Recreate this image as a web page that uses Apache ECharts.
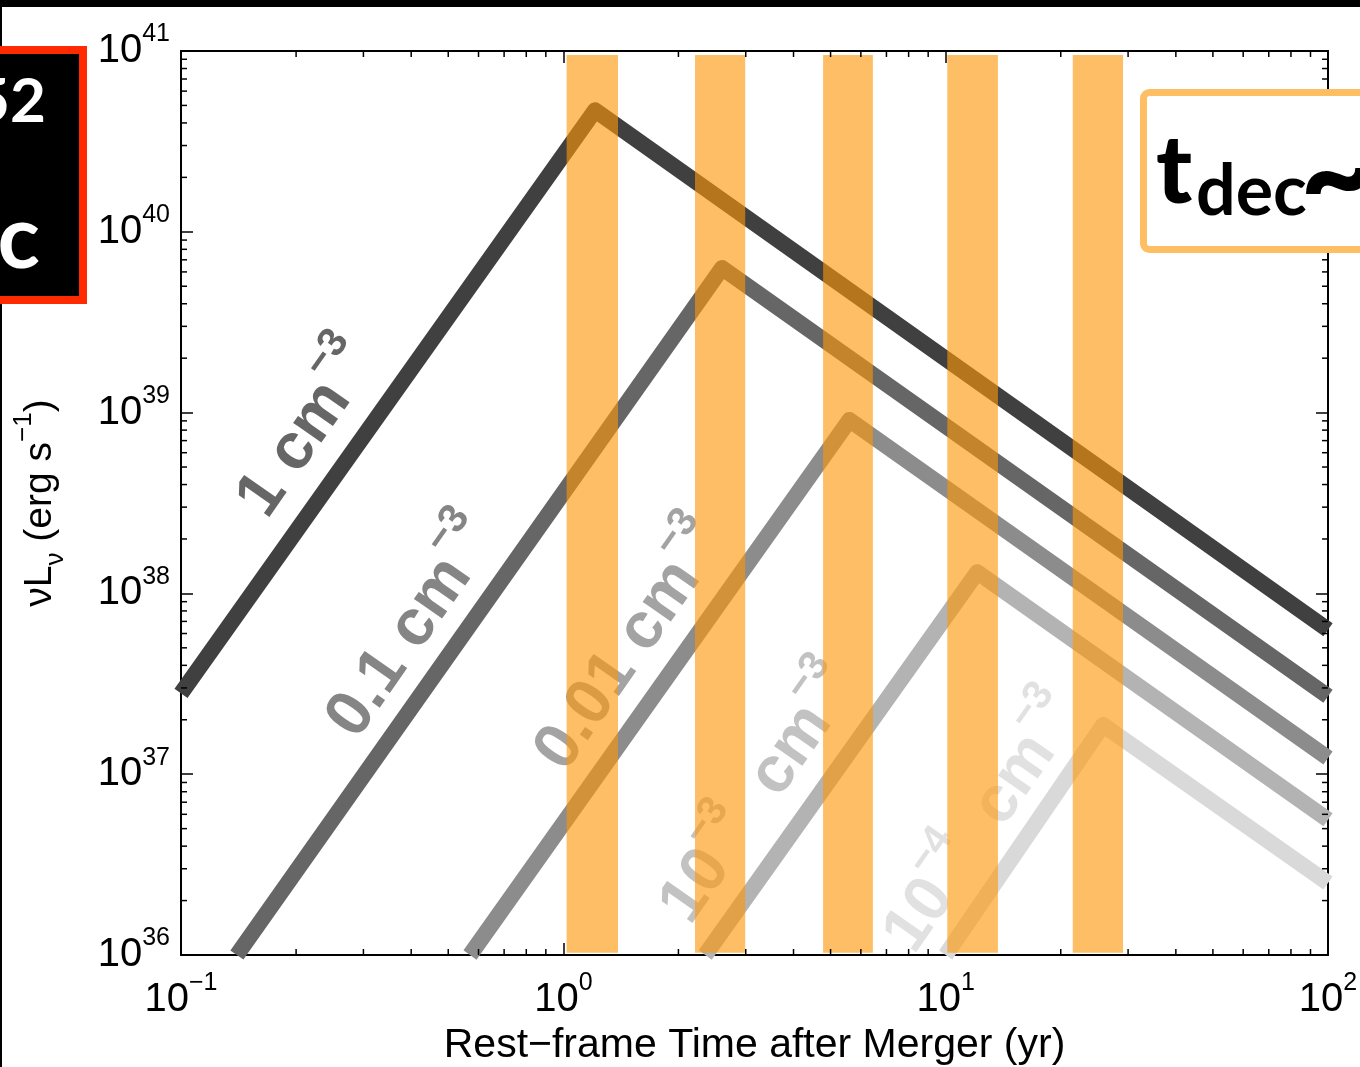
<!DOCTYPE html>
<html><head><meta charset="utf-8">
<script src="https://cdn.jsdelivr.net/npm/echarts@6/dist/echarts.min.js"></script>
<style>html,body{margin:0;padding:0;background:#fff}#c{width:1360px;height:1067px}</style>
</head><body><div id="c"></div>
<script>
// ---------- data ----------
const densityNames = ['1 cm-3', '0.1 cm-3', '0.01 cm-3', '1e-3 cm-3', '1e-4 cm-3'];
const densityLabels = [
  '{m|1 cm}{s|−3}',
  '{m|0.1 cm}{s|−3}',
  '{m|0.01 cm}{s|−3}',
  '{m|10}{s|−3}{m|  cm}{s|−3}',
  '{m|10}{s|−4}{m|  cm}{s|−3}'
];
const lineColors = ['#404040', '#666666', '#8c8c8c', '#b3b3b3', '#d9d9d9'];
// [rest-frame time (yr), nuL_nu (erg/s)]
const curve1 = [[0.1, 2.8e37], [1.21, 4.7e40], [100, 6.3e37]];
const curve01 = [[0.14, 1e36], [2.6, 6.3e39], [100, 2.7e37]];
const curve001 = [[0.57, 1e36], [5.6, 9.1e38], [100, 1.23e37]];
const curve1em3 = [[2.35, 1e36], [12.1, 1.31e38], [100, 5.6e36]];
const curve1em4 = [[10.0, 1e36], [25.8, 1.87e37], [100, 2.5e36]];
const curves = [curve1, curve01, curve001, curve1em3, curve1em4];
// label anchor points (data coords)
const labelAnchors = [[0.215, 8.0e38], [0.405, 6.4e37], [1.51, 5.1e37], [3.27, 7.7e36], [12.6, 5.3e36]];
// t_dec bands (yr)
const bandStart = [1.02, 2.21, 4.78, 10.1, 21.5];
const bandEnd = [1.39, 2.99, 6.45, 13.7, 29.1];
const bandBottom = 1.03e36, bandTop = 9.5e40;
// axes
const xMin = 0.1, xMax = 100, yMin = 1e36, yMax = 1e41;
const xDecades = [0.1, 1, 10];
const yDecades = [1e36, 1e37, 1e38, 1e39, 1e40];
const minorMantissas = [2, 3, 4, 5, 6, 7, 8, 9];

// ---------- build ----------
const FONT = "'Liberation Sans', Arial, Helvetica, sans-serif";
const minorData = [];
xDecades.forEach(d => minorMantissas.forEach(m => minorData.push([d * m, yMin, 0])));
yDecades.forEach(d => minorMantissas.forEach(m => minorData.push([xMin, d * m, 1])));

function expLabel(v) {
  const e = Math.round(Math.log10(v));
  return '{b|10}{s|' + (e < 0 ? '−' + (-e) : e) + '}';
}
const tickRich = {
  b: { fontSize: 40, lineHeight: 58, fontFamily: FONT, color: '#000' },
  s: { fontSize: 25, lineHeight: 25, verticalAlign: 'top', fontFamily: FONT, color: '#000' }
};
const axisCommon = {
  type: 'log', logBase: 10,
  axisLine: { show: true, onZero: false, lineStyle: { color: '#000', width: 2 } },
  axisTick: { show: true, inside: true, length: 12, lineStyle: { color: '#000', width: 1.5 } },
  splitLine: { show: false },
  minorTick: { show: false }
};

const series = [];
curves.forEach((c, i) => {
  series.push({
    type: 'line', name: densityNames[i], data: c, symbol: 'none', z: 2,
    lineStyle: { color: lineColors[i], width: 16, join: 'round', cap: 'butt' },
    silent: true, animation: false
  });
});
series.push({
  type: 'scatter', name: 'labels', z: 3, symbolSize: 0, silent: true,
  data: labelAnchors.map((p, i) => ({
    value: p,
    label: {
      show: true, position: 'inside', rotate: 55, formatter: densityLabels[i],
      rich: {
        m: { fontSize: 65, fontWeight: 'bold', lineHeight: 98, fontFamily: FONT, color: lineColors[i] },
        s: { fontSize: 41, fontWeight: 'bold', lineHeight: 41, verticalAlign: 'top', fontFamily: FONT, color: lineColors[i] }
      }
    }
  }))
});
series.push({
  type: 'custom', name: 'tdec bands', z: 5, silent: true, clip: false,
  data: bandStart.map((s, i) => [s, bandEnd[i], bandBottom, bandTop]),
  encode: { x: [0, 1], y: [2, 3] },
  renderItem(params, api) {
    const p0 = api.coord([api.value(0), api.value(3)]);
    const p1 = api.coord([api.value(1), api.value(2)]);
    return { type: 'rect', shape: { x: p0[0], y: p0[1], width: p1[0] - p0[0], height: p1[1] - p0[1] },
      style: { fill: 'rgba(252,150,8,0.62)' } };
  }
});
series.push({
  type: 'custom', name: 'minor ticks', z: 6, silent: true, clip: false,
  data: minorData, encode: { x: 0, y: 1 },
  renderItem(params, api) {
    const v0 = api.value(0), v1 = api.value(1), kind = api.value(2);
    const st = { stroke: '#000', lineWidth: 1.5 };
    if (kind === 0) {
      const b = api.coord([v0, yMin]), t = api.coord([v0, yMax]);
      return { type: 'group', children: [
        { type: 'line', shape: { x1: b[0], y1: b[1], x2: b[0], y2: b[1] - 6 }, style: st },
        { type: 'line', shape: { x1: t[0], y1: t[1], x2: t[0], y2: t[1] + 6 }, style: st }
      ] };
    }
    const l = api.coord([xMin, v1]), r = api.coord([xMax, v1]);
    return { type: 'group', children: [
      { type: 'line', shape: { x1: l[0], y1: l[1], x2: l[0] + 6, y2: l[1] }, style: st },
      { type: 'line', shape: { x1: r[0], y1: r[1], x2: r[0] - 6, y2: r[1] }, style: st }
    ] };
  }
});

const chart = echarts.init(document.getElementById('c'), null, { renderer: 'canvas' });
chart.setOption({
  animation: false,
  backgroundColor: '#fff',
  grid: { left: 181, right: 32, top: 51, bottom: 112, containLabel: false, outerBoundsMode: 'none' },
  xAxis: [
    Object.assign({}, axisCommon, {
      position: 'bottom', min: xMin, max: xMax,
      axisLabel: { formatter: expLabel, rich: tickRich, margin: 16 },
      name: 'Rest−frame Time after Merger (yr)', nameLocation: 'middle', nameGap: 67,
      nameTextStyle: { fontSize: 41, fontFamily: FONT, color: '#000' }
    }),
    Object.assign({}, axisCommon, { position: 'top', min: xMin, max: xMax, axisLabel: { show: false } })
  ],
  yAxis: [
    Object.assign({}, axisCommon, {
      position: 'left', min: yMin, max: yMax,
      axisLabel: { formatter: expLabel, rich: tickRich, margin: 11 },
      name: '{m|νL}{sb|ν}{m| (erg s}{sp|−1}{m|)}', nameLocation: 'middle', nameGap: 112, nameRotate: 90,
      nameTextStyle: {
        fontFamily: FONT, color: '#000',
        rich: {
          m: { fontSize: 39, lineHeight: 58, fontFamily: FONT, color: '#000' },
          sb: { fontSize: 26, lineHeight: 26, verticalAlign: 'bottom', fontFamily: FONT, color: '#000' },
          sp: { fontSize: 26, lineHeight: 26, verticalAlign: 'top', fontFamily: FONT, color: '#000' }
        }
      }
    }),
    Object.assign({}, axisCommon, { position: 'right', min: yMin, max: yMax, axisLabel: { show: false } })
  ],
  series: series,
  graphic: [
    { type: 'rect', z: 100, shape: { x: 0, y: 0, width: 1360, height: 7 }, style: { fill: '#000' } },
    { type: 'rect', z: 100, shape: { x: 0, y: 0, width: 2, height: 1067 }, style: { fill: '#000' } },
    { type: 'rect', z: 100, shape: { x: -10, y: 50, width: 93, height: 250 }, style: { fill: '#000', stroke: '#ff2a00', lineWidth: 8 } },
    { type: 'text', z: 101, style: { text: '52', x: 46, y: 102, align: 'right', verticalAlign: 'middle', font: 'bold 62px Lato', fill: '#fff' } },
    { type: 'text', z: 101, style: { text: 'c', x: 40, y: 240, align: 'right', verticalAlign: 'middle', font: 'bold 88px Lato', fill: '#fff' } },
    { type: 'rect', z: 100, shape: { x: 1143.5, y: 92.5, width: 300, height: 157, r: 6 }, style: { fill: '#fff', stroke: 'rgb(253,190,100)', lineWidth: 7 } },
    { type: 'text', z: 101, style: { text: 't', x: 1156, y: 172, align: 'left', verticalAlign: 'middle', font: '900 96px Lato', fill: '#000' } },
    { type: 'text', z: 101, style: { text: 'dec', x: 1196, y: 192, align: 'left', verticalAlign: 'middle', font: 'bold 70px Lato', fill: '#000' } },
    { type: 'text', z: 101, style: { text: '~', x: 1300, y: 178, align: 'left', verticalAlign: 'middle', font: '900 130px Lato', fill: '#000' } }
  ]
});
</script>
</body></html>
